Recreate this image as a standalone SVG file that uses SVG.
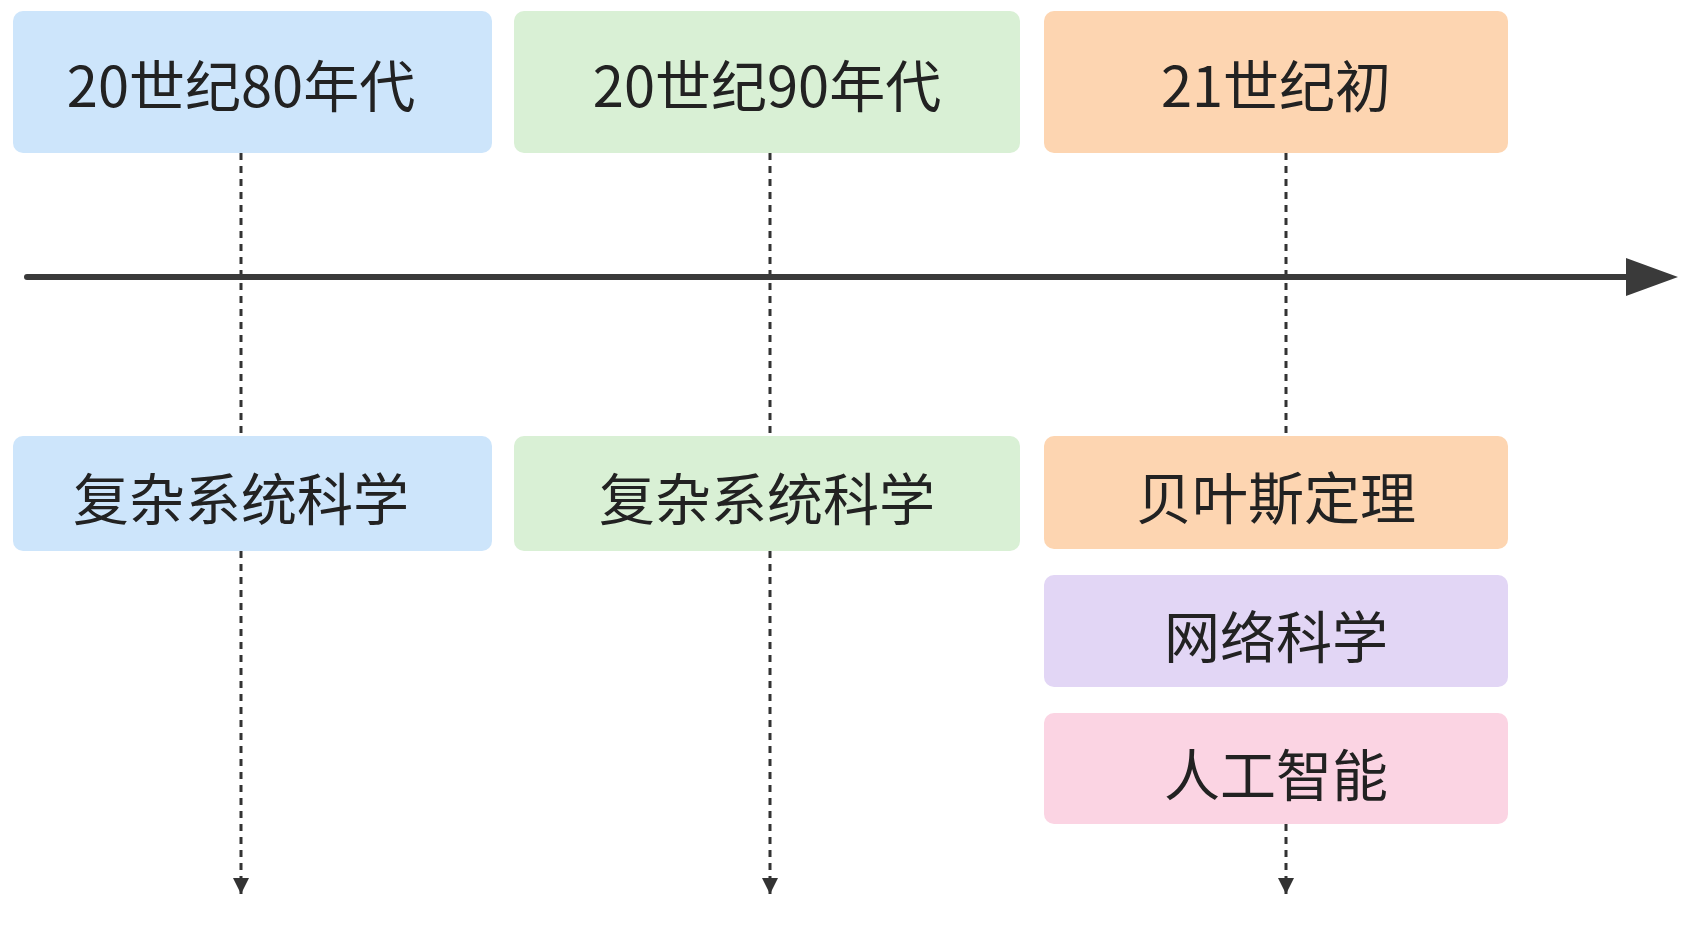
<svg xmlns="http://www.w3.org/2000/svg" width="1693" height="929" viewBox="0 0 1693 929">
<style>
text{font-family:"Noto Sans CJK SC","Noto Sans",sans-serif;font-size:56px;fill:#222;text-anchor:middle;dominant-baseline:central}
.d{stroke:#333;stroke-width:3;stroke-dasharray:7 6;fill:none}
</style>
<defs>
<marker id="a" viewBox="0 0 10 10" refX="10" refY="5" markerWidth="10" markerHeight="10" markerUnits="userSpaceOnUse" orient="auto"><path d="M0,0L10,5L0,10z" fill="#333" transform="scale(1)"/></marker>
<marker id="s" viewBox="0 0 10 10" refX="10" refY="5" markerWidth="22" markerHeight="16" markerUnits="userSpaceOnUse" orient="auto"><path d="M0,0L10,5L0,10z" fill="#333"/></marker>
</defs>
<rect width="1693" height="929" fill="#fff"/>
<g id="connectors">
<line class="d" x1="241" y1="153" x2="241" y2="436"/>
<line class="d" x1="241" y1="551" x2="241" y2="894" marker-end="url(#s)"/>
<line class="d" x1="770" y1="153" x2="770" y2="436"/>
<line class="d" x1="770" y1="551" x2="770" y2="894" marker-end="url(#s)"/>
<line class="d" x1="1286" y1="153" x2="1286" y2="436"/>
<line class="d" x1="1286" y1="824" x2="1286" y2="894" marker-end="url(#s)"/>
<line x1="27" y1="277" x2="1628" y2="277" stroke="#3a3a3a" stroke-width="6" stroke-linecap="round"/>
<path d="M1626,258L1678,277L1626,296z" fill="#3a3a3a"/>
</g>
<g id="n1"><rect x="13" y="11" width="479" height="142" rx="10" fill="#cde5fb"/><text x="241" y="82">20世纪80年代</text></g>
<g id="n2"><rect x="514" y="11" width="506" height="142" rx="10" fill="#d9f0d5"/><text x="767" y="82">20世纪90年代</text></g>
<g id="n3"><rect x="1044" y="11" width="464" height="142" rx="10" fill="#fdd5b1"/><text x="1276" y="82">21世纪初</text></g>
<g id="n4"><rect x="13" y="436" width="479" height="115" rx="10" fill="#cde5fb"/><text x="241" y="495">复杂系统科学</text></g>
<g id="n5"><rect x="514" y="436" width="506" height="115" rx="10" fill="#d9f0d5"/><text x="767" y="495">复杂系统科学</text></g>
<g id="n6"><rect x="1044" y="436" width="464" height="113" rx="10" fill="#fdd5b1"/><text x="1276" y="494">贝叶斯定理</text></g>
<g id="n7"><rect x="1044" y="575" width="464" height="112" rx="10" fill="#e2d6f5"/><text x="1276" y="633">网络科学</text></g>
<g id="n8"><rect x="1044" y="713" width="464" height="111" rx="10" fill="#fbd4e3"/><text x="1276" y="771">人工智能</text></g>
</svg>
